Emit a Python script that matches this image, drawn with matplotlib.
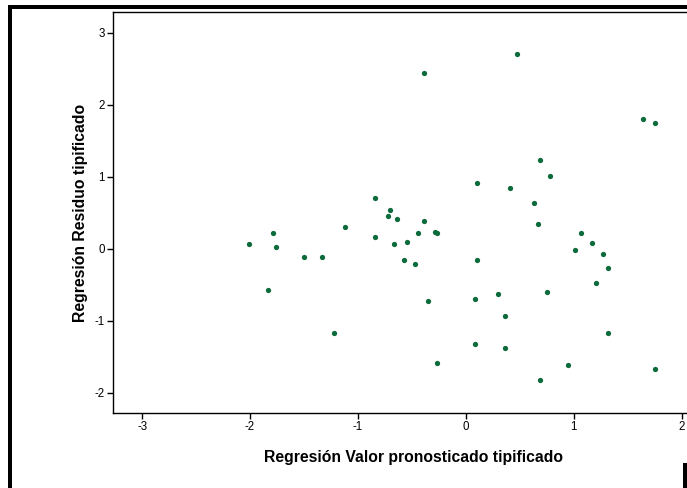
import matplotlib
matplotlib.use("Agg")
import matplotlib.pyplot as plt
from matplotlib.patches import Rectangle

plt.rcParams['font.family'] = ['Liberation Sans', 'DejaVu Sans']
plt.rcParams['axes.unicode_minus'] = False

# standardized predicted value (x) and standardized residual (y)
pred_std = [-2.01, -1.79, -1.76, -1.83, -1.50, -1.33, -1.12, -1.22, -0.84, -0.84,
            -0.70, -0.72, -0.64, -0.67, -0.55, -0.57, -0.47, -0.44, -0.39, -0.29,
            -0.27, -0.39, -0.35, -0.27, 0.10, 0.10, 0.08, 0.08, 0.47, 0.41,
            0.30, 0.36, 0.36, 0.69, 0.78, 0.63, 0.67, 0.75, 0.69, 1.01,
            1.07, 1.17, 1.21, 1.27, 1.32, 1.32, 0.95, 1.64, 1.75, 1.75]
resid_std = [0.07, 0.22, 0.03, -0.57, -0.12, -0.12, 0.31, -1.17, 0.70, 0.16,
             0.54, 0.45, 0.41, 0.07, 0.09, -0.16, -0.21, 0.22, 0.38, 0.23,
             0.22, 2.44, -0.73, -1.58, 0.92, -0.16, -0.69, -1.32, 2.70, 0.84,
             -0.63, -0.93, -1.38, 1.23, 1.01, 0.64, 0.34, -0.60, -1.82, -0.02,
             0.22, 0.08, -0.48, -0.07, -0.27, -1.17, -1.61, 1.80, 1.75, -1.67]

x_ticks = [-3, -2, -1, 0, 1, 2]
y_ticks = [-2, -1, 0, 1, 2, 3]

W, H = 687, 488
fig = plt.figure(figsize=(W / 100, H / 100), dpi=100)
fig.patch.set_facecolor('white')

# axes box in pixels: left 113, top 12, bottom 413, right beyond the image
ax = fig.add_axes([113 / W, (H - 413) / H, 600 / W, 401 / H])
ax.plot(pred_std, resid_std, 'o', color='#0b6b3a', ms=3.8, mew=0)

ax.set_xlim(-3.27, 2.29)
ax.set_ylim(-2.28, 3.29)
ax.set_xticks(x_ticks)
ax.set_yticks(y_ticks)
ax.tick_params(direction='out', length=4, width=1, labelsize=8.3, pad=2)
ax.spines['right'].set_visible(False)
for s in ('left', 'top', 'bottom'):
    ax.spines[s].set_linewidth(1)

ax.set_xlabel('Regresión Valor pronosticado tipificado', fontsize=11.3, fontweight='bold')
ax.set_ylabel('Regresión Residuo tipificado', fontsize=11.3, fontweight='bold')
ax.xaxis.set_label_coords(0.5, -0.0925)
ax.yaxis.set_label_coords(-0.042, 0.5)

# black frame pieces from the original export
fig.add_artist(Rectangle((8 / W, 0), 4 / W, (H - 5) / H, transform=fig.transFigure,
                         color='black', lw=0))
fig.add_artist(Rectangle((8 / W, (H - 9) / H), (W - 8) / W, 4 / H, transform=fig.transFigure,
                         color='black', lw=0))
fig.add_artist(Rectangle((683 / W, 0), 4 / W, 25 / H, transform=fig.transFigure,
                         color='black', lw=0))

fig.savefig('out.png', dpi=100)
